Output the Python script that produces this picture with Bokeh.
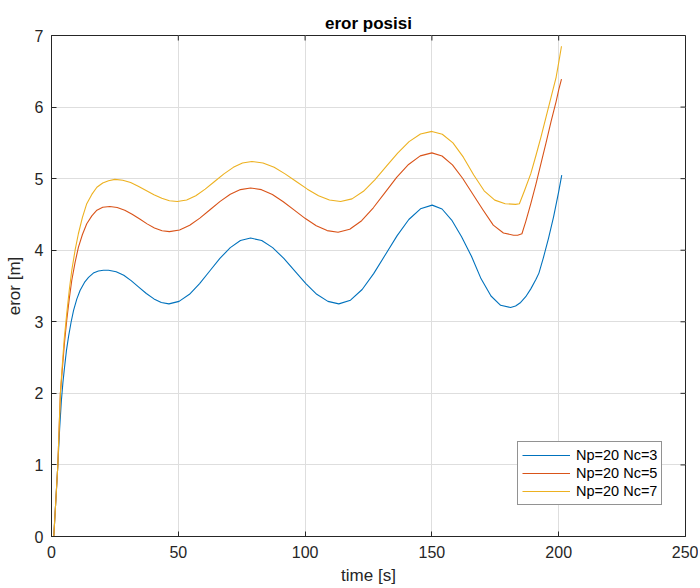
from bokeh.plotting import figure
from bokeh.models import Range1d, Legend, LegendItem, FixedTicker
from bokeh.embed import file_html
from bokeh.resources import INLINE

# ---- data ----
x_nc3 = [0.9, 1.7, 2.5, 3.2, 3.9, 4.5, 5.1, 5.9, 6.7, 7.7, 8.7, 10, 11.3, 13, 14.6, 16.5, 18.5, 20.5, 22.5,
         25.5, 28.5, 31.4, 34.4, 37.4, 40.4, 43.3, 46.3,
         50.3, 54.4, 58.4, 62.4, 66.4, 70.5, 74.5, 78.5,
         82.9, 87.2, 91.6, 95.9, 100.3, 104.6, 109, 113.3,
         117.9, 122.5, 127.1, 131.7, 136.3, 140.9, 145.5, 150.1,
         154, 157.8, 161.7, 165.6, 169.4, 173.3, 177.1, 181,
         183, 185, 187, 189, 191, 192.2, 194, 196, 198, 200, 201.2]
y_nc3 = [0, 0.5, 1.0, 1.5, 1.9, 2.15, 2.35, 2.6, 2.79, 2.99, 3.16, 3.32, 3.44, 3.55, 3.62, 3.68, 3.71, 3.72, 3.72,
         3.70, 3.65, 3.575, 3.485, 3.395, 3.32, 3.27, 3.25,
         3.285, 3.384, 3.534, 3.71, 3.886, 4.036, 4.135, 4.17,
         4.135, 4.036, 3.886, 3.71, 3.534, 3.384, 3.285, 3.25,
         3.302, 3.451, 3.676, 3.94, 4.204, 4.429, 4.578, 4.63,
         4.576, 4.421, 4.188, 3.915, 3.6, 3.36, 3.23, 3.20,
         3.22, 3.27, 3.35, 3.46, 3.59, 3.68, 3.9, 4.17, 4.47, 4.82, 5.05]

x_nc5 = [0.9, 1.7, 2.5, 3.0, 3.5, 4.3, 5.1, 6.0, 7, 8, 9.3, 10.6, 12.2, 13.9, 15.9, 17.9, 20.2, 23,
         25.9, 28.9, 31.8, 34.8, 37.7, 40.6, 43.6, 46.5,
         50.5, 54.5, 58.5, 62.5, 66.5, 70.5, 74.5, 78.5,
         82.8, 87.1, 91.4, 95.75, 100.1, 104.4, 108.7, 113,
         117.6, 122.3, 126.9, 131.5, 136.1, 140.8, 145.4, 150,
         154, 158.1, 162.1, 166.1, 170.1, 174.2, 178.2, 182.2,
         183.8, 185.5, 187, 189, 191, 193, 195, 197, 199, 200, 201.1]
y_nc5 = [0, 0.5, 1.0, 1.5, 2.0, 2.35, 2.7, 3.02, 3.32, 3.58, 3.83, 4.04, 4.22, 4.37, 4.48, 4.56, 4.6, 4.61,
         4.597, 4.559, 4.502, 4.435, 4.368, 4.311, 4.273, 4.26,
         4.283, 4.349, 4.448, 4.565, 4.682, 4.781, 4.847, 4.87,
         4.846, 4.779, 4.678, 4.56, 4.442, 4.341, 4.274, 4.25,
         4.292, 4.412, 4.593, 4.805, 5.017, 5.198, 5.318, 5.36,
         5.316, 5.192, 5.005, 4.785, 4.565, 4.35, 4.24, 4.21,
         4.21, 4.23, 4.4, 4.65, 4.92, 5.21, 5.5, 5.8, 6.08, 6.24, 6.39]

x_nc7 = [0.9, 1.7, 2.5, 3.0, 3.5, 4.1, 5, 6, 7, 8, 9.3, 10.6, 12.2, 13.9, 15.9, 17.9, 20.2, 22.5, 25,
         28.1, 31.2, 34.2, 37.3, 40.4, 43.5, 46.5, 49.6,
         53.3, 56.9, 60.6, 64.3, 68, 71.7, 75.3, 79,
         83.4, 87.8, 92.1, 96.5, 100.9, 105.3, 109.6, 114,
         118.5, 123, 127.5, 132, 136.5, 141, 145.5, 150,
         154.1, 158.3, 162.4, 166.5, 170.6, 174.8, 178.9, 183,
         184.5, 186.5, 189, 191, 193, 195, 197, 199, 200, 201.1]
y_nc7 = [0, 0.5, 1.0, 1.5, 2.0, 2.32, 2.75, 3.11, 3.44, 3.72, 4.0, 4.23, 4.46, 4.65, 4.78, 4.88, 4.94, 4.97, 4.99,
         4.978, 4.945, 4.894, 4.835, 4.776, 4.725, 4.692, 4.68,
         4.701, 4.762, 4.853, 4.96, 5.067, 5.158, 5.219, 5.24,
         5.219, 5.158, 5.067, 4.96, 4.853, 4.762, 4.701, 4.68,
         4.717, 4.823, 4.983, 5.17, 5.357, 5.517, 5.623, 5.66,
         5.62, 5.5, 5.3, 5.05, 4.83, 4.7, 4.65, 4.64,
         4.65, 4.83, 5.07, 5.32, 5.58, 5.86, 6.14, 6.42, 6.62, 6.85]

labels = ["Np=20 Nc=3", "Np=20 Nc=5", "Np=20 Nc=7"]
colors = ["#0072BD", "#D95319", "#EDB120"]
x_ticks = [0, 50, 100, 150, 200, 250]
y_ticks = [0, 1, 2, 3, 4, 5, 6, 7]

FONT = "Liberation Sans"
AX = "#262626"
X0, X1, Y0, Y1 = 0, 250, 0, 7
FW, FH = 634, 501

p = figure(frame_width=FW, frame_height=FH, output_backend="svg", toolbar_location=None,
           x_range=Range1d(X0, X1), y_range=Range1d(Y0, Y1),
           min_border_left=51, min_border_right=13, min_border_top=35, min_border_bottom=50)
p.background_fill_color = "white"
p.border_fill_color = "white"
p.outline_line_color = AX
p.outline_line_width = 1

p.title.text = "eror posisi"
p.title.align = "center"
p.title.text_font = FONT
p.title.text_font_size = "17px"
p.title.text_font_style = "bold"
p.title.text_color = "black"
p.title.standoff = 5

for ax in (p.xaxis[0], p.yaxis[0]):
    ax.axis_line_color = AX
    ax.major_tick_line_color = AX
    ax.major_tick_in = 5
    ax.major_tick_out = 0
    ax.minor_tick_line_color = None
    ax.major_label_text_font = FONT
    ax.major_label_text_font_size = "16px"
    ax.major_label_text_color = AX
    ax.axis_label_text_font = FONT
    ax.axis_label_text_font_size = "17px"
    ax.axis_label_text_font_style = "normal"
    ax.axis_label_text_color = AX

p.xaxis.ticker = FixedTicker(ticks=x_ticks)
p.yaxis.ticker = FixedTicker(ticks=y_ticks)
p.xaxis.axis_label = "time [s]"
p.yaxis.axis_label = "eror [m]"
p.xaxis.major_label_standoff = 9
p.yaxis.major_label_standoff = 8
p.xaxis.axis_label_standoff = 5
p.yaxis.axis_label_standoff = 8

p.grid.grid_line_color = "#dedede"
p.grid.grid_line_width = 1

# inward ticks on top and right edges of the box
tx = 5 * (X1 - X0) / FW
ty = 5 * (Y1 - Y0) / FH
p.segment(x0=x_ticks, x1=x_ticks, y0=[Y1] * len(x_ticks), y1=[Y1 - ty] * len(x_ticks),
          line_color=AX, line_width=1)
p.segment(x0=[X1] * len(y_ticks), x1=[X1 - tx] * len(y_ticks), y0=y_ticks, y1=y_ticks,
          line_color=AX, line_width=1)

items = []
for xs, ys, c, lab in zip([x_nc3, x_nc5, x_nc7], [y_nc3, y_nc5, y_nc7], colors, labels):
    r = p.line(xs, ys, line_color=c, line_width=1.1, line_join="round")
    items.append(LegendItem(label=lab, renderers=[r]))

legend = Legend(items=items, location=(466, 31), glyph_width=48, glyph_height=18,
                label_height=18, spacing=0, padding=4, margin=0, label_standoff=6,
                label_text_font=FONT, label_text_font_size="14.5px", label_text_color="black",
                border_line_color=AX, border_line_width=1, background_fill_alpha=1)
p.add_layout(legend, "center")

open("out.html", "w").write(file_html(p, INLINE))
